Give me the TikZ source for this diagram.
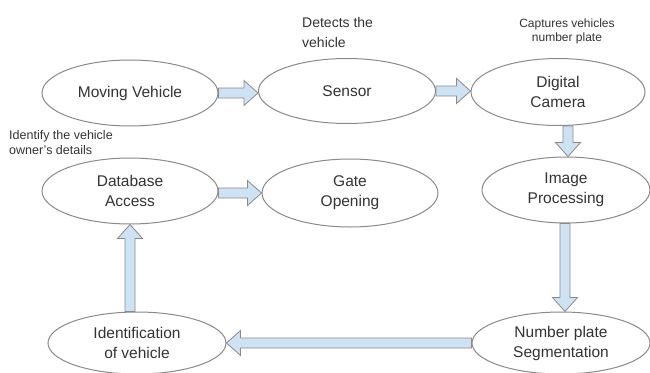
\documentclass[tikz,border=0pt]{standalone}
\usepackage{fontspec}
\setmainfont{Liberation Sans}
\usetikzlibrary{shapes.geometric,calc}
\definecolor{arrfill}{HTML}{CFE2F3}
\definecolor{edgegray}{HTML}{8A8A8A}
\definecolor{txt}{HTML}{333333}
\newcommand\blkarrow[2]{%
  \filldraw[blkarr] ($(#1)!5pt!90:(#2)$) -- ($(#2)!14pt!(#1)!5pt!90:(#2)$)
    -- ($(#2)!14pt!(#1)!12.5pt!90:(#2)$) -- (#2)
    -- ($(#2)!14pt!(#1)!12.5pt!-90:(#2)$) -- ($(#2)!14pt!(#1)!5pt!-90:(#2)$)
    -- ($(#1)!5pt!-90:(#2)$) -- cycle;}
\begin{document}
\begin{tikzpicture}[x=1pt,y=-1pt,
  proc/.style={ellipse, draw=edgegray, line width=1pt, inner sep=0pt, align=center,
    text=txt, font=\fontsize{15.5}{20}\selectfont},
  blkarr/.style={fill=arrfill, draw=edgegray, line width=0.8pt, line join=miter},
  note/.style={text=txt, inner sep=0pt}]
\useasboundingbox[fill=white] (0,0) rectangle (650,372);

\node[proc, minimum width=176pt, minimum height=66pt] (mv) at (130,93) {Moving Vehicle};
\node[proc, minimum width=177pt, minimum height=65pt] (sen) at (347,91) {Sensor};
\node[proc, minimum width=174pt, minimum height=67pt] (cam) at (558,92) {Digital\\Camera};
\node[proc, minimum width=168pt, minimum height=66pt] (img) at (566,190) {Image\\Processing};
\node[proc, minimum width=176pt, minimum height=66pt] (db) at (130,191) {Database\\Access};
\node[proc, minimum width=176pt, minimum height=68pt] (gate) at (350,193) {Gate\\Opening};
\node[proc, minimum width=178pt, minimum height=62pt] (id) at (137,343) {Identification\\of vehicle};
\node[proc, minimum width=178pt, minimum height=62pt] (np) at (561,343) {Number plate\\Segmentation};

\node[note, anchor=west, align=left, font=\fontsize{14}{20}\selectfont] (n1) at (302,32) {Detects the\\vehicle};
\node[note, align=center, font=\fontsize{12}{14}\selectfont] (n2) at (567,31.5) {Captures vehicles\\number plate};
\node[note, anchor=west, align=left, font=\fontsize{12.5}{15}\selectfont] (n3) at (9,142.5) {Identify the vehicle\\owner's details};

\coordinate (t1) at (mv.east);
\coordinate (t2) at (t1 -| sen.west);
\coordinate (u1) at (sen.east);
\coordinate (u2) at (u1 -| cam.west);
\coordinate (p1) at ([xshift=10pt]cam.south);
\coordinate (p2) at (p1 |- img.north);
\coordinate (p3) at ([xshift=-1pt]img.south);
\coordinate (p4) at (p3 |- np.north);
\coordinate (q1) at (np.west);
\coordinate (q2) at (q1 -| id.east);
\coordinate (r1) at ([xshift=-7pt]id.north);
\coordinate (r2) at (r1 |- db.south);
\coordinate (s1) at ([yshift=-2pt]db.east);
\coordinate (s2) at (s1 -| gate.west);

\blkarrow{t1}{t2}
\blkarrow{u1}{u2}
\blkarrow{p1}{p2}
\blkarrow{p3}{p4}
\blkarrow{q1}{q2}
\blkarrow{r1}{r2}
\blkarrow{s1}{s2}
\end{tikzpicture}
\end{document}
